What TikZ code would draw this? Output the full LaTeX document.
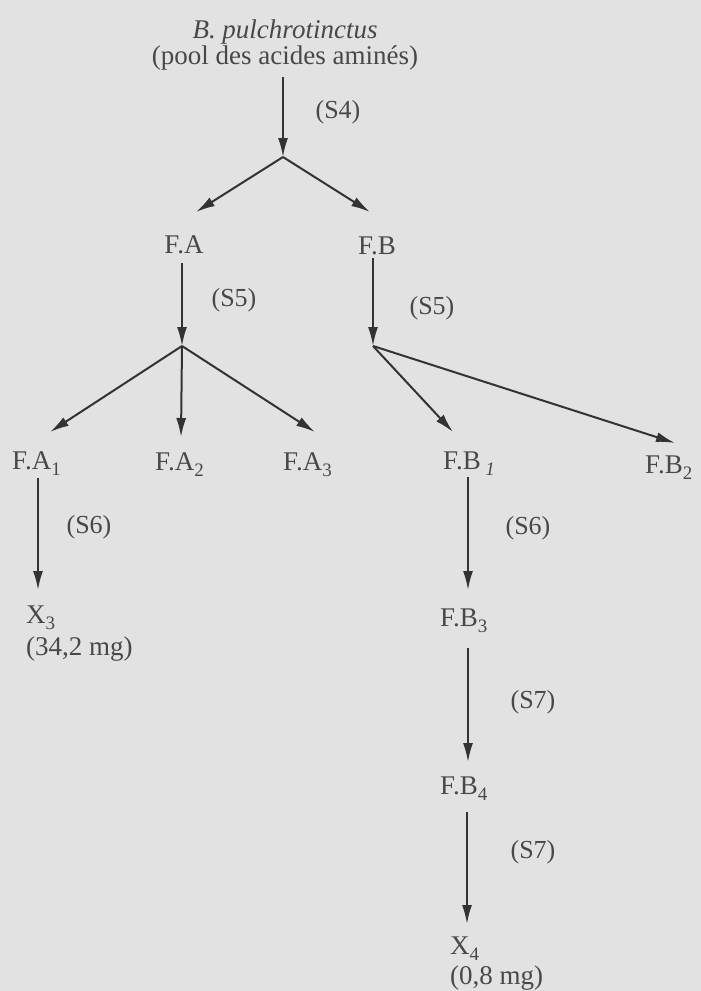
\documentclass[tikz,border=0pt]{standalone}
\usepackage{fontspec}
\setmainfont{Liberation Serif}
\usetikzlibrary{arrows.meta}
\definecolor{bg}{HTML}{E2E2E2}
\definecolor{ink}{HTML}{333333}
\definecolor{txt}{HTML}{484848}
\tikzset{
  lbl/.style={inner sep=0pt, text=txt, font=\fontsize{27}{32}\selectfont, anchor=base west},
  stp/.style={inner sep=0pt, text=txt, font=\fontsize{26}{30}\selectfont},
  flow/.style={draw=ink, line width=2pt, -{Latex[length=19pt,width=10pt]}},
}
\newcommand{\sbs}[1]{\raisebox{-6pt}{\fontsize{19}{19}\selectfont #1}}
\begin{document}
\begin{tikzpicture}[x=1pt,y=-1pt]
\fill[bg] (0,0) rectangle (701,991);
\useasboundingbox (0,0) rectangle (701,991);
% title
\node[lbl, anchor=base, align=center, font=\fontsize{27}{26}\selectfont] (top) at (285,64) {\textit{B. pulchrotinctus}\\(pool des acides aminés)};
\coordinate (s4a) at (283,77);
\coordinate (j1) at (283,157);
\node[stp] (s4) at (338,112) {(S4)};
\draw[flow] (s4a) -- (j1);
% level 1
\node[lbl, anchor=base] (FA) at (184,253) {F.A};
\node[lbl, anchor=base] (FB) at (377,254) {F.B};
\coordinate (j1l) at (196,212);
\coordinate (j1r) at (370,212);
\draw[flow] (j1) -- (j1l);
\draw[flow] (j1) -- (j1r);
% F.A branch
\coordinate (fa0) at (182,263);
\coordinate (j2) at (182,346);
\node[stp] (s5a) at (234,300) {(S5)};
\draw[flow] (fa0) -- (j2);
\node[lbl] (FA1) at (12,469) {F.A\sbs{1}};
\node[lbl] (FA2) at (155,470) {F.A\sbs{2}};
\node[lbl] (FA3) at (283,470) {F.A\sbs{3}};
\coordinate (a1) at (50,432);
\coordinate (a2) at (181,437);
\coordinate (a3) at (315,432);
\draw[flow] (j2) -- (a1);
\draw[flow] (j2) -- (a2);
\draw[flow] (j2) -- (a3);
% F.B branch
\coordinate (fb0) at (373,258);
\coordinate (j3) at (373,346);
\node[stp] (s5b) at (432,308) {(S5)};
\draw[flow] (fb0) -- (j3);
\node[lbl] (FB1) at (443,469) {F.B\,\sbs{\textit{1}}};
\node[lbl] (FB2) at (645,473) {F.B\sbs{2}};
\coordinate (b1) at (453,432);
\coordinate (b2) at (675,443);
\draw[flow] (j3) -- (b1);
\draw[flow] (j3) -- (b2);
% F.A1 -> X3
\coordinate (fa1d) at (38,478);
\coordinate (x3u) at (38,590);
\node[stp] (s6a) at (89,527) {(S6)};
\draw[flow] (fa1d) -- (x3u);
\node[lbl, align=left] (X3) at (26,655) {X\sbs{3}\\(34,2 mg)};
% F.B1 -> F.B3
\coordinate (fb1d) at (468,477);
\coordinate (fb3u) at (468,590);
\node[stp] (s6b) at (528,528) {(S6)};
\draw[flow] (fb1d) -- (fb3u);
\node[lbl] (FB3) at (440,626) {F.B\sbs{3}};
\coordinate (fb3d) at (468,648);
\coordinate (fb4u) at (468,762);
\node[stp] (s7a) at (533,702) {(S7)};
\draw[flow] (fb3d) -- (fb4u);
\node[lbl] (FB4) at (440,794) {F.B\sbs{4}};
\coordinate (fb4d) at (467,812);
\coordinate (x4u) at (467,924);
\node[stp] (s7b) at (533,852) {(S7)};
\draw[flow] (fb4d) -- (x4u);
\node[lbl, align=left, font=\fontsize{27}{30}\selectfont] (X4) at (450,984) {X\sbs{4}\\(0,8 mg)};
\end{tikzpicture}
\end{document}
